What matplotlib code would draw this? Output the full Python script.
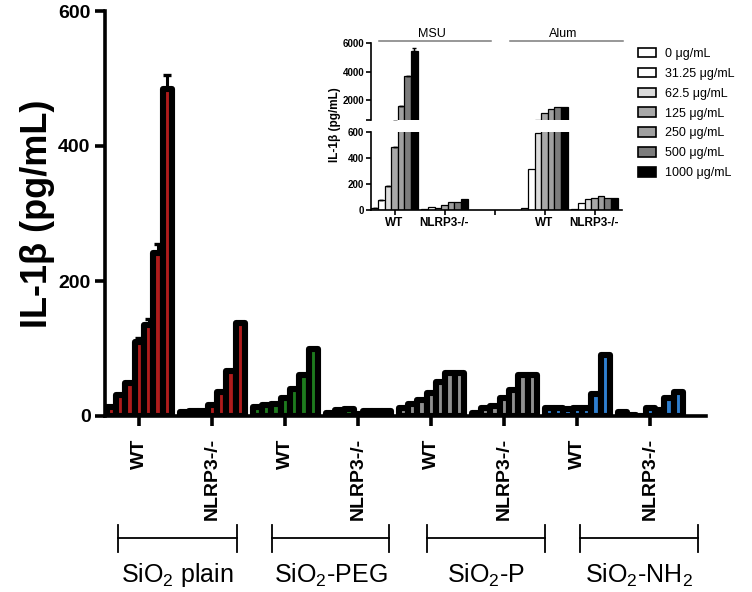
import matplotlib
matplotlib.use("Agg")
import matplotlib.pyplot as plt
import numpy as np
from matplotlib.patches import Patch
from matplotlib.lines import Line2D

plt.rcParams['font.family'] = ['Liberation Sans', 'DejaVu Sans']
plt.rcParams['mathtext.fontset'] = 'custom'
plt.rcParams['mathtext.rm'] = 'Liberation Sans'
plt.rcParams['mathtext.it'] = 'Liberation Sans:italic'
plt.rcParams['mathtext.bf'] = 'Liberation Sans:bold'

# ---------------- data ----------------
particles = ["SiO$_2$ plain", "SiO$_2$-PEG", "SiO$_2$-P", "SiO$_2$-NH$_2$"]
genotypes = ["WT", "NLRP3-/-"]
doses = ["0 \u03bcg/mL", "31.25 \u03bcg/mL", "62.5 \u03bcg/mL", "125 \u03bcg/mL",
         "250 \u03bcg/mL", "500 \u03bcg/mL", "1000 \u03bcg/mL"]

plain_wt = [14, 31, 49, 109, 135, 242, 484]
plain_ko = [6, 7, 8, 17, 36, 66, 138]
peg_wt = [13, 16, 18, 27, 40, 61, 99]
peg_ko = [5, 9, 11, 3, 7, 8, 7]
p_wt = [12, 18, 23, 34, 51, 64, 63]
p_ko = [4, 12, 15, 27, 38, 61, 61]
nh2_wt = [12, 12, 11, 12, 12, 32, 90]
nh2_ko = [6, 2, 0.5, 12, 9, 26, 36]
plain_wt_err = [0, 0, 0, 6, 8, 13, 21]

# inset (MSU / Alum controls)
inset_groups = ["WT", "NLRP3-/-", "", "WT", "NLRP3-/-"]
msu_wt = [13, 77, 184, 485, 1580, 3700, 5450]
msu_wt_err = [0, 0, 0, 0, 0, 0, 230]
msu_ko = [8, 25, 13, 38, 59, 59, 82]
alum_wt = [13, 314, 588, 1060, 1370, 1500, 1500]
alum_ko = [5, 56, 85, 92, 105, 92, 93]

# ---------------- style ----------------
particle_colors = ["#b01c1c", "#1e7b1e", "#909090", "#2f7fd0"]
dose_colors = ["#ffffff", "#ffffff", "#dcdcdc", "#a8a8a8", "#a0a0a0", "#7c7c7c", "#000000"]

W, H = 752, 592
fig = plt.figure(figsize=(W / 100, H / 100), dpi=100)

def fx(px):
    return px / W

def fy(py):
    return 1 - py / H

# main axes
x_left, x_right = 104.5, 706
y0, y600 = 416, 11
ax = fig.add_axes([fx(x_left), fy(y0), fx(x_right - x_left), (y0 - y600) / H])
unit = 73.0
c0 = 139.3
ax.set_xlim((x_left - c0) / unit, (x_right - c0) / unit)
ax.set_ylim(0, 600)

main_series = [plain_wt, plain_ko, peg_wt, peg_ko, p_wt, p_ko, nh2_wt, nh2_ko]
bw = 0.1275
offs = (np.arange(7) - 3) * bw
for g, vals in enumerate(main_series):
    col = particle_colors[g // 2]
    ax.bar(g + offs, vals, width=bw, color=col, edgecolor="black",
           linewidth=4.4, joinstyle="round", zorder=2)
ax.errorbar(0 + offs, plain_wt, yerr=[np.zeros(7), plain_wt_err], fmt="none",
            ecolor="black", elinewidth=2.2, capsize=3, capthick=2.4, zorder=3)

for s in ["top", "right"]:
    ax.spines[s].set_visible(False)
for s in ["left", "bottom"]:
    ax.spines[s].set_linewidth(2.6)
    ax.spines[s].set_zorder(4)
ax.set_yticks([0, 200, 400, 600])
ax.set_yticklabels(["0", "200", "400", "600"], fontsize=14, fontweight="bold")
ax.set_xticks(np.arange(8))
ax.set_xticklabels(genotypes * 4, rotation=90, fontsize=14, fontweight="bold")
ax.tick_params(axis="both", direction="out", length=7, width=2.6, pad=3)
ax.tick_params(axis="x", pad=9)
ax.set_ylabel("IL-1\u03b2 (pg/mL)", fontsize=26, fontweight="bold", labelpad=2)

# group brackets under the axis
brackets = [(118, 237), (272, 389), (427, 545), (580, 698)]
yb, yb1, yb2 = 538, 525, 552
for (a, b), name in zip(brackets, particles):
    fig.add_artist(Line2D([fx(a), fx(b)], [fy(yb), fy(yb)], color="black", lw=1.3))
    fig.add_artist(Line2D([fx(a), fx(a)], [fy(yb1), fy(yb2)], color="black", lw=1.3))
    fig.add_artist(Line2D([fx(b), fx(b)], [fy(yb1), fy(yb2)], color="black", lw=1.3))
    fig.text(fx((a + b) / 2), fy(575), name, ha="center", va="center", fontsize=18)

# ---------------- inset ----------------
i_left, i_right = 371, 622
i_unit = 50.0
i_c0 = 394.5
lo0, lo600 = 210, 131.7
up600, up6000 = 119.8, 43.3
axl = fig.add_axes([fx(i_left), fy(lo0), fx(i_right - i_left), (lo0 - lo600) / H])
axu = fig.add_axes([fx(i_left), fy(up600), fx(i_right - i_left), (up600 - up6000) / H])
ixlim = ((i_left - i_c0) / i_unit, (i_right - i_c0) / i_unit)
ibw = 0.133
ioffs = (np.arange(7) - 3) * ibw
inset_series = [(0, msu_wt), (1, msu_ko), (3, alum_wt), (4, alum_ko)]
for a in (axl, axu):
    a.set_xlim(*ixlim)
    for pos, vals in inset_series:
        a.bar(pos + ioffs, vals, width=ibw, color=dose_colors, edgecolor="black",
              linewidth=0.9, zorder=2)
    a.errorbar(0 + ioffs, msu_wt, yerr=[np.zeros(7), msu_wt_err], fmt="none",
               ecolor="black", elinewidth=1.0, capsize=1.5, capthick=1.0, zorder=3)
    for s in ["top", "right"]:
        a.spines[s].set_visible(False)
    a.spines["left"].set_linewidth(1.2)
    a.tick_params(axis="both", direction="out", length=3.5, width=1.2, pad=1.5)

axl.set_ylim(0, 600)
axl.set_yticks([0, 200, 400, 600])
axl.set_yticklabels(["0", "200", "400", "600"], fontsize=7, fontweight="bold")
axl.spines["bottom"].set_linewidth(1.2)
axl.set_xticks(np.arange(5))
axl.set_xticklabels(inset_groups, fontsize=8.5, fontweight="bold")

axu.set_ylim(600, 6000)
axu.set_yticks([600, 2000, 4000, 6000])
axu.set_yticklabels(["", "2000", "4000", "6000"], fontsize=7, fontweight="bold")
axu.spines["bottom"].set_visible(False)
axu.set_xticks([])

fig.text(fx(335), fy(125), "IL-1\u03b2 (pg/mL)", rotation=90, ha="center", va="center",
         fontsize=8.5, fontweight="bold")

# MSU / Alum headers
for (a, b), name in zip([(379, 491), (510, 623)], ["MSU", "Alum"]):
    fig.add_artist(Line2D([fx(a), fx(b)], [fy(41), fy(41)], color="#7a7a7a", lw=1.1))
    fig.text(fx((a + b) / 2 - 3), fy(40), name, ha="center", va="bottom", fontsize=9)

handles = [Patch(facecolor=c, edgecolor="black", linewidth=1.2) for c in dose_colors]
fig.legend(handles, doses, loc="upper left", bbox_to_anchor=(fx(634), fy(44)),
           frameon=False, fontsize=9, handlelength=1.45, handleheight=0.8,
           handletextpad=0.75, labelspacing=0.62, borderaxespad=0, borderpad=0.3)

fig.savefig("out.png", dpi=100)
